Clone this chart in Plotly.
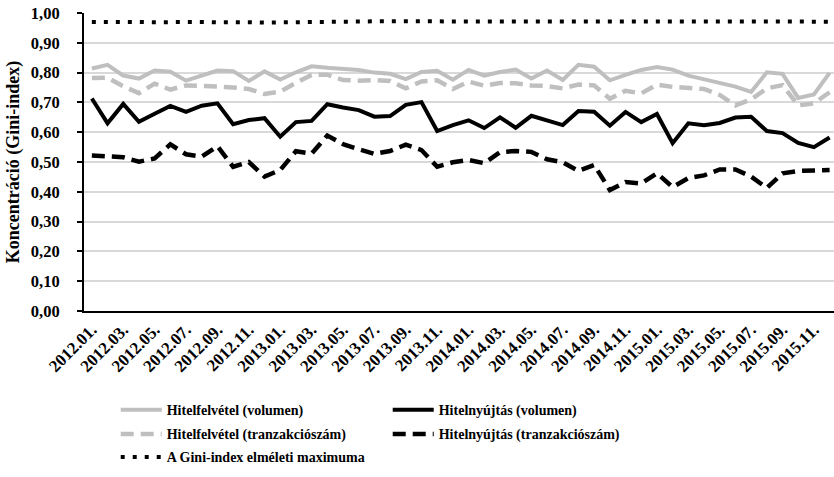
import plotly.graph_objects as go

months = [f"{y}.{m:02d}." for y in range(2012, 2016) for m in range(1, 13)]

hf_volumen = [0.814, 0.826, 0.790, 0.780, 0.807, 0.803, 0.773, 0.789, 0.807, 0.805, 0.772, 0.804,
              0.777, 0.801, 0.821, 0.816, 0.811, 0.809, 0.800, 0.796, 0.778, 0.802, 0.806, 0.776,
              0.809, 0.790, 0.802, 0.810, 0.780, 0.807, 0.775, 0.826, 0.820, 0.774, 0.792, 0.809,
              0.819, 0.810, 0.790, 0.777, 0.766, 0.753, 0.735, 0.801, 0.796, 0.715, 0.727, 0.799]
hn_volumen = [0.713, 0.630, 0.695, 0.635, 0.662, 0.688, 0.668, 0.689, 0.697, 0.627, 0.641, 0.647,
              0.585, 0.634, 0.638, 0.694, 0.683, 0.674, 0.652, 0.654, 0.692, 0.701, 0.604, 0.624,
              0.640, 0.614, 0.650, 0.615, 0.655, 0.641, 0.624, 0.671, 0.669, 0.622, 0.668, 0.634,
              0.661, 0.563, 0.630, 0.623, 0.631, 0.649, 0.652, 0.604, 0.597, 0.564, 0.550, 0.582]
hf_tranz = [0.782, 0.783, 0.754, 0.731, 0.763, 0.743, 0.757, 0.756, 0.753, 0.750, 0.745, 0.728,
            0.736, 0.766, 0.792, 0.793, 0.775, 0.773, 0.775, 0.772, 0.747, 0.770, 0.774, 0.745,
            0.770, 0.756, 0.765, 0.764, 0.757, 0.755, 0.747, 0.760, 0.757, 0.712, 0.739, 0.730,
            0.760, 0.752, 0.748, 0.745, 0.725, 0.690, 0.710, 0.747, 0.758, 0.690, 0.697, 0.734]
hn_tranz = [0.522, 0.518, 0.516, 0.501, 0.512, 0.559, 0.526, 0.518, 0.553, 0.484, 0.500, 0.451,
            0.473, 0.536, 0.528, 0.589, 0.560, 0.543, 0.527, 0.537, 0.558, 0.540, 0.484, 0.499,
            0.507, 0.496, 0.533, 0.537, 0.534, 0.509, 0.499, 0.470, 0.490, 0.406, 0.433, 0.428,
            0.462, 0.416, 0.446, 0.455, 0.475, 0.475, 0.451, 0.413, 0.462, 0.470, 0.473, 0.473]
gini_max = [0.970, 0.971, 0.970, 0.970, 0.969, 0.970, 0.970, 0.970, 0.969, 0.970, 0.969, 0.968,
            0.969, 0.970, 0.970, 0.971, 0.971, 0.971, 0.972, 0.972, 0.972, 0.973, 0.972, 0.972,
            0.972, 0.972, 0.973, 0.972, 0.973, 0.973, 0.973, 0.972, 0.973, 0.972, 0.972, 0.972,
            0.972, 0.971, 0.971, 0.972, 0.972, 0.971, 0.971, 0.970, 0.972, 0.972, 0.972, 0.971]

names = ["Hitelfelvétel (volumen)", "Hitelnyújtás (volumen)",
         "Hitelfelvétel (tranzakciószám)", "Hitelnyújtás (tranzakciószám)",
         "A Gini-index elméleti maximuma"]

FONT = "Liberation Serif, Times New Roman, serif"
GRAY = "#bfbfbf"
idx = list(range(len(months)))
label_idx = idx[::2]
label_txt = [months[i] for i in label_idx]
bounds = [i - 0.5 for i in label_idx]
xr = [-0.5, 47.28]

fig = go.Figure()
fig.add_trace(go.Scatter(x=idx, y=hf_volumen, name=names[0], mode="lines", legend="legend",
                         line=dict(color=GRAY, width=4)))
fig.add_trace(go.Scatter(x=idx, y=hn_volumen, name=names[1], mode="lines", legend="legend",
                         line=dict(color="black", width=4)))
fig.add_trace(go.Scatter(x=idx, y=hf_tranz, name=names[2], mode="lines", legend="legend2",
                         line=dict(color=GRAY, width=4.5, dash="13px,7px")))
fig.add_trace(go.Scatter(x=idx, y=hn_tranz, name=names[3], mode="lines", legend="legend2",
                         line=dict(color="black", width=4.5, dash="13px,7px")))
fig.add_trace(go.Scatter(x=idx, y=gini_max, name=names[4], mode="lines", legend="legend3",
                         line=dict(color="black", width=4, dash="4px,8px")))

leg_common = dict(orientation="h", xanchor="left", yanchor="middle",
                  entrywidth=216, itemwidth=41, traceorder="normal",
                  font=dict(family=FONT, size=14, weight="bold"),
                  bgcolor="rgba(0,0,0,0)")

fig.update_layout(
    width=834, height=477,
    margin=dict(l=84, r=0, t=13, b=166, autoexpand=False),
    paper_bgcolor="white", plot_bgcolor="white",
    separators=", ",
    font=dict(family=FONT, size=14, color="black", weight="bold"),
    showlegend=True,
    legend=dict(x=0.0423, y=-0.333, **leg_common),
    legend2=dict(x=0.0423, y=-0.414, **leg_common),
    legend3=dict(x=0.0423, y=-0.491, **leg_common),
    xaxis=dict(range=xr, tickmode="array", tickvals=label_idx, ticktext=label_txt,
               tickangle=-45, ticks="", showgrid=False, zeroline=False,
               showline=True, linecolor="black", linewidth=2, automargin=False,
               tickfont=dict(family=FONT, size=17, weight="bold")),
    xaxis2=dict(range=xr, overlaying="x", anchor="y", tickmode="array", tickvals=bounds,
                ticks="outside", ticklen=5, tickwidth=2, tickcolor="black",
                showticklabels=False, showgrid=False, zeroline=False, showline=False),
    xaxis3=dict(range=xr, overlaying="x", anchor="y", tickmode="array", tickvals=bounds,
                ticks="inside", ticklen=5, tickwidth=2, tickcolor="black",
                showticklabels=False, showgrid=False, zeroline=False, showline=False),
    yaxis=dict(range=[0, 1], dtick=0.1, tick0=0, tickformat=".2f",
               ticks="outside", ticklen=5, tickwidth=2, tickcolor="black",
               ticklabelstandoff=14, automargin=False,
               showgrid=True, gridcolor="#d9d9d9", gridwidth=1.5, zeroline=False,
               showline=True, linecolor="black", linewidth=2,
               tickfont=dict(family=FONT, size=16.5, weight="bold")),
    yaxis2=dict(range=[0, 1], dtick=0.1, tick0=0, overlaying="y", anchor="x", side="left",
                ticks="inside", ticklen=5, tickwidth=2, tickcolor="black",
                showticklabels=False, showgrid=False, zeroline=False, showline=False),
)
fig.layout.yaxis.title = dict(text="Koncentráció (Gini-index)", standoff=7,
                              font=dict(family=FONT, size=18, weight="bold"))

fig.write_html("out.html", config={"displayModeBar": False},
               post_script="document.body.style.margin='0px';document.body.style.overflow='hidden';")
